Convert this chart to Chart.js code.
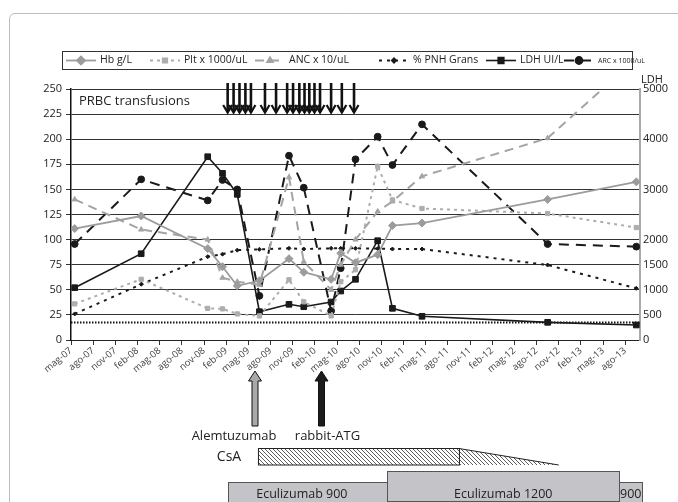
<!DOCTYPE html>
<html>
<head>
<meta charset="utf-8">
<script src="https://cdn.jsdelivr.net/npm/chart.js@4.4.1/dist/chart.umd.min.js"></script>
<style>
  html, body { margin: 0; padding: 0; background: #fff; }
  #wrap { width: 678px; height: 502px; }
</style>
</head>
<body>
<div id="wrap"><canvas id="chart" width="678" height="502"></canvas></div>
<script>
// tick labels every 3 months, starting May 2007
const monthLabels = ['mag-07','ago-07','nov-07','feb-08','mag-08','ago-08','nov-08','feb-09','mag-09','ago-09',
  'nov-09','feb-10','mag-10','ago-10','nov-10','feb-11','mag-11','ago-11','nov-11','feb-12','mag-12','ago-12',
  'nov-12','feb-13','mag-13','ago-13'];
const rightTickLabels = [0, 500, 1000, 1500, 2000, 3000, 4000, 5000];

// sample dates, in months since May 2007
const sampleMonths = [0.5, 9.5, 18.5, 20.5, 22.5, 25.5, 29.5, 31.5, 35.2, 36.5, 38.5, 41.5, 43.5, 47.5, 64.5, 76.5];

const hb  = [111, 123.5, 91, 73, 54, 59, 81, 67.5, 60.5, 86.5, 77, 85, 114, 116.5, 140, 157.5];
const plt = [36, 60.5, 31.5, 31, 26, 24, 60, 38, 24, 58, 70, 173, 139.5, 131, 126, 112];
const anc = [140, 110, 100, 62, 58, 55, 162, 78, 50, 75, 100, 128, 138, 163, 201, 280];
const pnh = [26, 55.5, 83, 85.5, 89.5, 90.3, 91.3, 90.6, 91.3, 91.3, 91.3, 91, 90.6, 90.6, 74.7, 51.5];
const ldh = [1042, 1719, 3651, 3320, 2902, 564, 711, 663, 757, 976, 1209, 1978, 631, 472, 352, 299];
const arc = [95.6, 160, 139, 159.4, 150, 44, 183.6, 151.7, 29, 71.5, 180, 202.5, 174.3, 214.8, 95.6, 93];
const refLevel = 17.5;

// treatments (months since May 2007)
const prbcMonths = [21.2, 22.0, 22.8, 23.6, 24.35, 26.25, 27.75, 29.25, 30.05, 30.9, 31.6, 32.25, 32.95, 33.7, 35.2, 36.65, 38.3];
const alemtuzumabMonth = 24.9;
const atgMonth = 33.9;
const csaFull = [25.3, 52.5];
const csaTaperEnd = 66;
const eculizumab = [
  { label: 'Eculizumab 900', from: 21.3, to: 42.8 },
  { label: '900', from: 74.2, to: 77.3 },
  { label: 'Eculizumab 1200', from: 42.8, to: 74.2 }
];

const FONT = "'Open Sans', 'DejaVu Sans', sans-serif";

function pts(values) {
  return sampleMonths.map((m, i) => ({ x: m, y: values[i] }));
}

const series = [
  { label: 'Hb g/L', data: pts(hb), color: '#9c9c9c', width: 1.8, dash: [], shape: 'rectRot', r: 4, axis: 'y' },
  { label: 'Plt x 1000/uL', data: pts(plt), color: '#adadad', width: 2, dash: [3, 4], shape: 'rect', r: 3, axis: 'y' },
  { label: 'ANC x 10/uL', data: pts(anc), color: '#a4a4a4', width: 2, dash: [9, 6], shape: 'triangle', r: 3, axis: 'y' },
  { label: '% PNH Grans', data: pts(pnh), color: '#1a1a1a', width: 2, dash: [3, 5], shape: 'rectRot', r: 2, axis: 'y' },
  { label: 'LDH UI/L', data: pts(ldh), color: '#1a1a1a', width: 1.6, dash: [], shape: 'rect', r: 4, axis: 'y2' },
  { label: 'ARC x 1000/uL', data: pts(arc), color: '#1a1a1a', width: 2, dash: [10, 7], shape: 'circle', r: 3.4, axis: 'y' }
];

const datasets = series.map(s => ({
  label: s.label,
  data: s.data,
  yAxisID: s.axis,
  borderColor: s.color,
  backgroundColor: s.color,
  borderWidth: s.width,
  borderDash: s.dash,
  pointStyle: s.shape,
  pointRadius: s.r,
  pointBackgroundColor: s.color,
  pointBorderColor: s.color,
  pointBorderWidth: 1,
  tension: 0
}));

datasets.push({
  label: 'ref',
  data: [{ x: 0, y: refLevel }, { x: 77, y: refLevel }],
  yAxisID: 'y',
  borderColor: '#111',
  borderWidth: 2,
  borderDash: [1.5, 1.5],
  pointRadius: 0
});

function makeHatch(ctx) {
  const c = document.createElement('canvas');
  c.width = 4; c.height = 4;
  const g = c.getContext('2d');
  g.strokeStyle = '#333';
  g.lineWidth = 0.8;
  g.beginPath();
  g.moveTo(0, 0); g.lineTo(4, 4);
  g.moveTo(-1, 3); g.lineTo(1, 5);
  g.moveTo(3, -1); g.lineTo(5, 1);
  g.stroke();
  return ctx.createPattern(c, 'repeat');
}

function upArrow(ctx, cx, tipY, bottomY, fill) {
  const sw = 3, hw = 6.5, hh = 10;
  ctx.beginPath();
  ctx.moveTo(cx, tipY);
  ctx.lineTo(cx + hw, tipY + hh);
  ctx.lineTo(cx + sw, tipY + hh);
  ctx.lineTo(cx + sw, bottomY);
  ctx.lineTo(cx - sw, bottomY);
  ctx.lineTo(cx - sw, tipY + hh);
  ctx.lineTo(cx - hw, tipY + hh);
  ctx.closePath();
  ctx.fillStyle = fill;
  ctx.fill();
  ctx.strokeStyle = '#111';
  ctx.lineWidth = 1;
  ctx.stroke();
}

const decorations = {
  id: 'decorations',
  beforeDraw(chart) {
    const ctx = chart.ctx;
    ctx.save();
    ctx.strokeStyle = '#bdbdbd';
    ctx.lineWidth = 1;
    ctx.beginPath();
    ctx.moveTo(9.5, 502);
    ctx.lineTo(9.5, 19);
    ctx.arcTo(9.5, 13.5, 15, 13.5, 5.5);
    ctx.lineTo(678, 13.5);
    ctx.stroke();
    ctx.restore();
  },
  afterDraw(chart) {
    const ctx = chart.ctx;
    const x = chart.scales.x;
    const area = chart.chartArea;
    ctx.save();

    // legend
    ctx.strokeStyle = '#333';
    ctx.lineWidth = 1;
    ctx.strokeRect(62.5, 51.5, 570, 18);
    const legendX = [66, 150, 255, 379, 486, 564];
    series.forEach((s, i) => {
      const sx = legendX[i], ly = 60.5;
      ctx.strokeStyle = s.color;
      ctx.lineWidth = s.width;
      ctx.setLineDash(s.dash);
      ctx.beginPath();
      ctx.moveTo(sx, ly); ctx.lineTo(sx + 30, ly);
      ctx.stroke();
      ctx.setLineDash([]);
      Chart.helpers.drawPoint(ctx, { pointStyle: s.shape, radius: s.r, rotation: 0, borderWidth: 1 }, sx + 15, ly);
      ctx.fillStyle = s.color;
      ctx.fill();
      ctx.fillStyle = '#222';
      ctx.font = (i === 5 ? '7px ' : '10.5px ') + FONT;
      ctx.textBaseline = 'middle';
      ctx.textAlign = 'left';
      ctx.fillText(s.label, sx + 34, ly);
    });

    // axis captions
    ctx.fillStyle = '#222';
    ctx.font = '13px ' + FONT;
    ctx.textBaseline = 'middle';
    ctx.fillText('PRBC transfusions', area.left + 8, area.top + 12);
    ctx.font = '11px ' + FONT;
    ctx.fillText('LDH', area.right + 1, area.top - 9);

    // PRBC transfusion arrows
    ctx.strokeStyle = '#111';
    prbcMonths.forEach(m => {
      const px = x.getPixelForValue(m);
      ctx.lineWidth = 2.6;
      ctx.beginPath();
      ctx.moveTo(px, area.top - 6);
      ctx.lineTo(px, area.top + 23);
      ctx.stroke();
      ctx.lineWidth = 2.2;
      ctx.beginPath();
      ctx.moveTo(px - 4.5, area.top + 16);
      ctx.lineTo(px, area.top + 23.5);
      ctx.lineTo(px + 4.5, area.top + 16);
      ctx.stroke();
    });

    // immunosuppression arrows
    const ax = x.getPixelForValue(alemtuzumabMonth);
    const tx = x.getPixelForValue(atgMonth);
    upArrow(ctx, ax, 371, 426, '#a9a9a9');
    upArrow(ctx, tx, 371, 426, '#1c1c1c');
    ctx.fillStyle = '#222';
    ctx.font = '13px ' + FONT;
    ctx.textAlign = 'center';
    ctx.fillText('Alemtuzumab', ax - 21, 436);
    ctx.fillText('rabbit-ATG', tx + 6, 436);

    // CsA
    ctx.font = '14px ' + FONT;
    ctx.fillText('CsA', 229, 457);
    const c0 = x.getPixelForValue(csaFull[0]);
    const c1 = x.getPixelForValue(csaFull[1]);
    const c2 = x.getPixelForValue(csaTaperEnd);
    const hatch = makeHatch(ctx);
    ctx.fillStyle = hatch;
    ctx.fillRect(c0, 448.5, c1 - c0, 16.5);
    ctx.beginPath();
    ctx.moveTo(c1, 448.5); ctx.lineTo(c2, 465); ctx.lineTo(c1, 465); ctx.closePath();
    ctx.fill();
    ctx.strokeStyle = '#222';
    ctx.lineWidth = 1;
    ctx.strokeRect(c0 + 0.5, 448.5, c1 - c0, 16.5);
    ctx.beginPath();
    ctx.moveTo(c1, 448.5); ctx.lineTo(c2, 465);
    ctx.stroke();

    // Eculizumab
    eculizumab.forEach(e => {
      const e0 = x.getPixelForValue(e.from);
      const e1 = x.getPixelForValue(e.to);
      const top = e.label === 'Eculizumab 1200' ? 471.5 : 482.5;
      ctx.fillStyle = '#c4c4c8';
      ctx.fillRect(e0, top, e1 - e0, 30);
      ctx.strokeStyle = '#555';
      ctx.strokeRect(Math.round(e0) + 0.5, top, Math.round(e1 - e0), 30);
      ctx.fillStyle = '#222';
      ctx.font = '12.5px ' + FONT;
      ctx.textAlign = 'center';
      ctx.fillText(e.label, (e0 + e1) / 2 + (e.label === 'Eculizumab 900' ? -6 : 0), 494.5);
    });
    ctx.restore();
  }
};

new Chart(document.getElementById('chart'), {
  type: 'line',
  data: { datasets },
  plugins: [decorations],
  options: {
    responsive: false,
    animation: false,
    layout: { padding: { top: 89, left: 0, right: 0, bottom: 0 } },
    plugins: { legend: { display: false }, tooltip: { enabled: false } },
    scales: {
      x: {
        type: 'linear',
        min: 0,
        max: 77,
        afterBuildTicks(scale) {
          scale.ticks = monthLabels.map((_, i) => ({ value: i * 3 }));
        },
        afterFit(scale) { scale.height = 162; },
        grid: { drawOnChartArea: false, drawTicks: true, tickLength: 5, color: '#333' },
        border: { display: true, color: '#222', width: 1 },
        ticks: {
          autoSkip: false,
          minRotation: 40,
          maxRotation: 40,
          padding: 0,
          color: '#444',
          font: { family: FONT, size: 9.5 },
          callback: v => monthLabels[Math.round(v / 3)] || ''
        }
      },
      y: {
        position: 'left',
        min: 0,
        max: 250,
        afterFit(scale) { scale.width = 71; },
        grid: { color: '#333', lineWidth: 1, tickLength: 5 },
        border: { color: '#111', width: 1.5 },
        ticks: { stepSize: 25, padding: 4, color: '#222', font: { family: FONT, size: 11 } }
      },
      y2: {
        position: 'right',
        min: 0,
        max: 5000,
        afterFit(scale) { scale.width = 38; },
        grid: { drawOnChartArea: false, drawTicks: false },
        border: { color: '#aaa', width: 2 },
        ticks: {
          stepSize: 500,
          padding: 3,
          color: '#222',
          font: { family: FONT, size: 11 },
          callback: v => rightTickLabels.includes(v) ? String(v) : ''
        }
      }
    }
  }
});
</script>
</body>
</html>
